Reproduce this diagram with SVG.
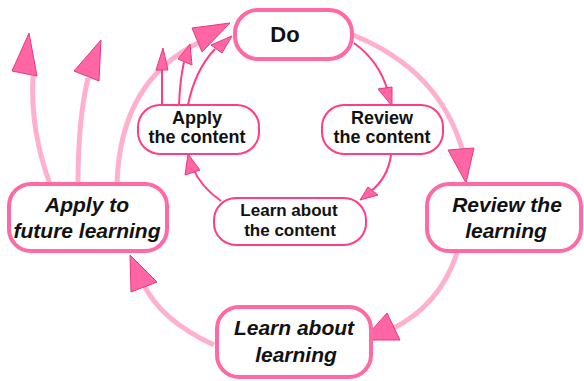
<svg xmlns="http://www.w3.org/2000/svg" width="584" height="381" viewBox="0 0 584 381">
<style>
.ob{fill:#fff;stroke:#ff69a5;stroke-width:4}
.ib{fill:#fff;stroke:#ff3d87;stroke-width:2}
.oc{fill:none;stroke:#ffb0cf;stroke-width:5}
.ic{fill:none;stroke:#ff3d87;stroke-width:2}
.ah{fill:#ff66a3;stroke:#e8387f;stroke-width:1;stroke-linejoin:round}
.ot{font-family:"Liberation Sans",Arial,sans-serif;font-weight:bold;font-style:italic;font-size:21px;fill:#111;text-anchor:middle}
.it{font-family:"Liberation Sans",Arial,sans-serif;font-weight:bold;font-size:18px;fill:#111;text-anchor:middle}
</style>
<rect width="584" height="381" fill="#fff"/>
<g id="connectors">
<path class="oc" d="M353 35 Q440 70 463 152"/>
<polygon class="ah" points="448,150 474,148 466,183"/>
<path class="oc" d="M457 253 Q440 305 392 329"/>
<polygon class="ah" points="363,340 400,340 387,313"/>
<path class="oc" d="M214 345 Q160 320 143 283"/>
<polygon class="ah" points="130,255 131,292 157,282"/>
<path class="oc" d="M50 184 Q30 130 33 76"/>
<polygon class="ah" points="12,71 37,76 29,33"/>
<path class="oc" d="M78 184 Q78 120 88 78"/>
<polygon class="ah" points="74,71 99,81 101,40"/>
<path class="oc" d="M117 184 Q120 80 200 42"/>
<polygon class="ah" points="192,28 202,52 230,23"/>
<path class="ic" d="M354 43 Q380 62 388 92"/>
<polygon class="ah" points="378,89 392,87 392,106"/>
<path class="ic" d="M391 155 Q388 178 370 192"/>
<polygon class="ah" points="360,200 368,187 378,195"/>
<path class="ic" d="M221 201 Q200 186 193 168"/>
<polygon class="ah" points="185,175 188,154 200,170"/>
<path class="ic" d="M162 105 L162 70"/>
<polygon class="ah" points="156,70 168,70 163,48"/>
<path class="ic" d="M179 105 Q180 80 184 62"/>
<polygon class="ah" points="178,59 192,65 190,44"/>
<path class="ic" d="M188 105 Q195 70 215 49"/>
<polygon class="ah" points="211,45 222,53 232,36"/>
</g>
<g id="do">
<rect class="ob" x="235" y="10" width="117" height="49" rx="23"/>
<text class="it" style="font-size:22px" x="285" y="42">Do</text>
</g>
<g id="review-content">
<rect class="ib" x="322" y="105" width="121" height="49" rx="22"/>
<text class="it" x="382" y="124">Review</text>
<text class="it" x="382" y="143">the content</text>
</g>
<g id="apply-content">
<rect class="ib" x="138" y="105" width="121" height="49" rx="22"/>
<text class="it" x="197" y="124">Apply</text>
<text class="it" x="197" y="143">the content</text>
</g>
<g id="learn-content">
<rect class="ib" x="214" y="198" width="152" height="47" rx="22"/>
<text class="it" style="font-size:17px" x="289" y="216">Learn about</text>
<text class="it" style="font-size:17px" x="290" y="236">the content</text>
</g>
<g id="apply-future">
<rect class="ob" x="9" y="184" width="158" height="67" rx="22"/>
<text class="ot" x="87" y="212">Apply to</text>
<text class="ot" x="87" y="238">future learning</text>
</g>
<g id="review-learning">
<rect class="ob" x="427" y="184" width="154" height="67" rx="22"/>
<text class="ot" x="507" y="212">Review the</text>
<text class="ot" x="506" y="238">learning</text>
</g>
<g id="learn-learning">
<rect class="ob" x="217" y="307" width="154" height="70" rx="22"/>
<text class="ot" x="294" y="335">Learn about</text>
<text class="ot" x="296" y="362">learning</text>
</g>
</svg>
